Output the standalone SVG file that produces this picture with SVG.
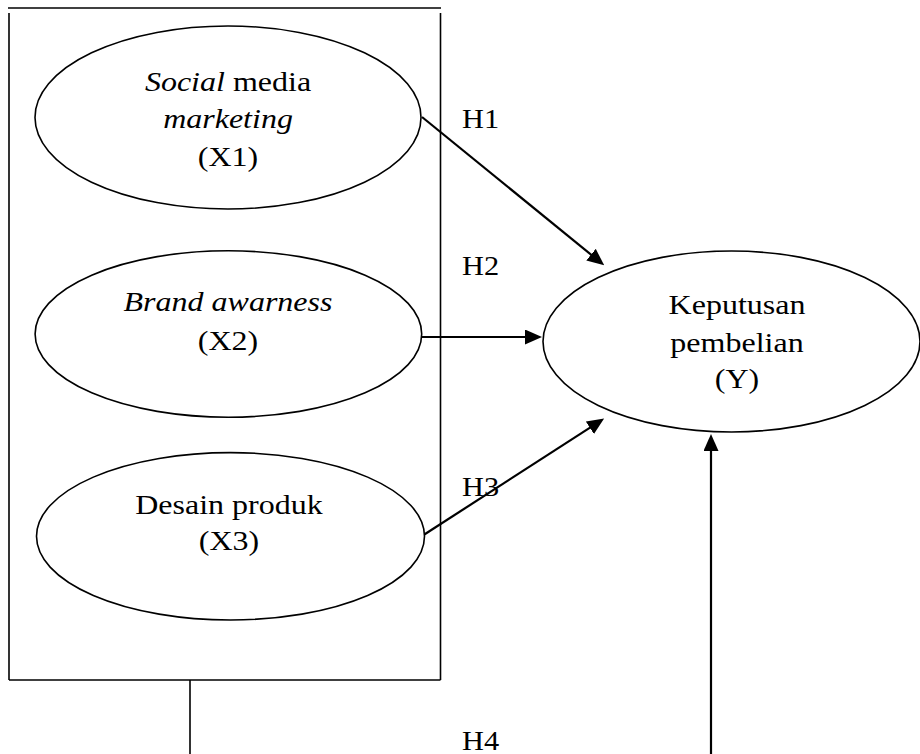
<svg xmlns="http://www.w3.org/2000/svg" width="920" height="754" viewBox="0 0 920 754">
<style>
  .t { font-family: "Liberation Serif", "Times New Roman", serif; font-size: 27.6px; fill: #000; }
  .c { text-anchor: middle; }
  .i { font-style: italic; }
  .node { fill: #fff; stroke: #000; stroke-width: 1.6; }
  .box { fill: none; stroke: #000; stroke-width: 1.6; }
  .conn { fill: none; stroke: #000; stroke-width: 2.2; }
</style>
<defs>
  <marker id="ah" viewBox="0 0 17 15" refX="9" refY="7.5" markerWidth="17" markerHeight="15" markerUnits="userSpaceOnUse" orient="auto">
    <path d="M0,0 L17,7.5 L0,15 z" fill="#000"/>
  </marker>
</defs>
<rect width="920" height="754" fill="#fff"/>

<g id="frame">
  <line class="box" x1="8" y1="8" x2="441" y2="8"/>
  <line class="box" x1="9" y1="13" x2="9" y2="680"/>
  <line class="box" x1="440.5" y1="13" x2="440.5" y2="680"/>
  <line class="box" x1="9" y1="680" x2="440.5" y2="680"/>
</g>

<g id="connectors">
  <line class="box" x1="190" y1="680" x2="190" y2="754"/>
  <line class="conn" x1="422" y1="117" x2="598" y2="260.3" marker-end="url(#ah)"/>
  <line class="conn" x1="422" y1="337" x2="534" y2="337" marker-end="url(#ah)"/>
  <line class="conn" x1="422" y1="536" x2="597.4" y2="422.9" marker-end="url(#ah)"/>
  <line class="conn" x1="711" y1="754" x2="711" y2="442" marker-end="url(#ah)"/>
</g>

<g id="x1">
  <ellipse class="node" cx="228" cy="117.5" rx="193" ry="91.5"/>
  <text class="t c" transform="translate(228,91) scale(1.16,1)"><tspan class="i">Social</tspan> media</text>
  <text class="t c i" transform="translate(228,128) scale(1.16,1)">marketing</text>
  <text class="t c" transform="translate(228,166) scale(1.16,1)">(X1)</text>
</g>

<g id="x2">
  <ellipse class="node" cx="228.4" cy="334" rx="193.3" ry="83.2"/>
  <text class="t c i" transform="translate(228,310.5) scale(1.16,1)">Brand awarness</text>
  <text class="t c" transform="translate(228,350) scale(1.16,1)">(X2)</text>
</g>

<g id="x3">
  <ellipse class="node" cx="230.5" cy="536.3" rx="194" ry="83.7"/>
  <text class="t c" transform="translate(229,514) scale(1.16,1)">Desain produk</text>
  <text class="t c" transform="translate(229,550) scale(1.16,1)">(X3)</text>
</g>

<g id="y">
  <ellipse class="node" cx="731.5" cy="341.5" rx="188.5" ry="90.5"/>
  <text class="t c" transform="translate(737,313.5) scale(1.16,1)">Keputusan</text>
  <text class="t c" transform="translate(737,351.5) scale(1.16,1)">pembelian</text>
  <text class="t c" transform="translate(737,388) scale(1.16,1)">(Y)</text>
</g>

<g id="labels">
  <text class="t" transform="translate(462,128) scale(1.1,1)">H1</text>
  <text class="t" transform="translate(462,275) scale(1.1,1)">H2</text>
  <text class="t" transform="translate(462,496) scale(1.1,1)">H3</text>
  <text class="t" transform="translate(462,750) scale(1.1,1)">H4</text>
</g>
</svg>
